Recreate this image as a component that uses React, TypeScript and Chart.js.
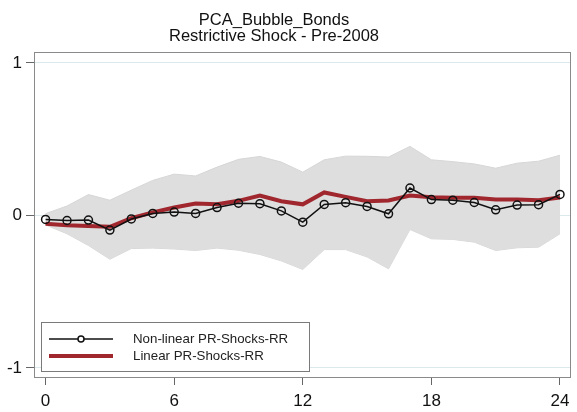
import React, { useEffect, useRef } from "react";
import { Chart, registerables } from "chart.js";

Chart.register(...registerables);

const titleLines = ["PCA_Bubble_Bonds", "Restrictive Shock - Pre-2008"];
const steps = [0, 1, 2, 3, 4, 5, 6, 7, 8, 9, 10, 11, 12, 13, 14, 15, 16, 17, 18, 19, 20, 21, 22, 23, 24];
const nonLinear = [-0.026, -0.033, -0.03, -0.096, -0.023, 0.013, 0.022, 0.013, 0.052, 0.08, 0.077, 0.03, -0.044, 0.072, 0.084, 0.059, 0.011, 0.18, 0.104, 0.1, 0.085, 0.037, 0.068, 0.071, 0.138];
const linear = [-0.055, -0.064, -0.069, -0.074, -0.018, 0.02, 0.052, 0.078, 0.074, 0.096, 0.13, 0.093, 0.073, 0.151, 0.122, 0.094, 0.098, 0.131, 0.12, 0.116, 0.116, 0.105, 0.105, 0.1, 0.118];
const bandUpper = [0.012, 0.062, 0.137, 0.1, 0.166, 0.23, 0.271, 0.259, 0.317, 0.368, 0.387, 0.35, 0.284, 0.365, 0.389, 0.388, 0.383, 0.453, 0.365, 0.353, 0.338, 0.31, 0.343, 0.356, 0.395];
const bandLower = [-0.062, -0.12, -0.197, -0.287, -0.217, -0.214, -0.22, -0.23, -0.214, -0.228, -0.256, -0.298, -0.354, -0.224, -0.224, -0.272, -0.35, -0.092, -0.153, -0.157, -0.175, -0.23, -0.212, -0.208, -0.12];
const xTicks = [0, 6, 12, 18, 24];
const yTicks = [-1, 0, 1];
const legendLabels = ["Non-linear PR-Shocks-RR", "Linear PR-Shocks-RR"];

const FONT = '"Liberation Sans", Arial, sans-serif';
const RED = "#a0272e";
const BLACK = "#111111";

export default function App() {
  const ref = useRef<HTMLCanvasElement>(null);

  useEffect(() => {
    const pts = (arr: number[]) => steps.map((x, i) => ({ x, y: arr[i] }));

    const decor = {
      id: "decor",
      afterDraw(chart: any) {
        const { ctx, chartArea } = chart;
        ctx.save();
        // frame
        ctx.strokeStyle = "#8a8a8a";
        ctx.lineWidth = 1;
        ctx.strokeRect(
          Math.round(chartArea.left) + 0.5,
          Math.round(chartArea.top) + 0.5,
          Math.round(chartArea.right - chartArea.left) - 1,
          Math.round(chartArea.bottom - chartArea.top) - 1
        );
        // title
        ctx.fillStyle = "#111111";
        ctx.font = `16.5px ${FONT}`;
        ctx.textAlign = "center";
        ctx.textBaseline = "middle";
        ctx.fillText(titleLines[0], 274, 20);
        ctx.fillText(titleLines[1], 274, 36);
        // legend
        const bx = 41.5, by = 322.5, bw = 268, bh = 49;
        ctx.fillStyle = "#ffffff";
        ctx.fillRect(bx, by, bw, bh);
        ctx.strokeStyle = "#7a7a7a";
        ctx.strokeRect(bx, by, bw, bh);
        // entry 1
        ctx.strokeStyle = BLACK;
        ctx.lineWidth = 1.5;
        ctx.beginPath();
        ctx.moveTo(49, 339);
        ctx.lineTo(113, 339);
        ctx.stroke();
        ctx.beginPath();
        ctx.arc(81, 339, 3, 0, Math.PI * 2);
        ctx.fillStyle = "#ffffff";
        ctx.fill();
        ctx.stroke();
        // entry 2
        ctx.strokeStyle = RED;
        ctx.lineWidth = 4;
        ctx.beginPath();
        ctx.moveTo(49, 356);
        ctx.lineTo(113, 356);
        ctx.stroke();
        ctx.fillStyle = "#222222";
        ctx.font = `13.3px ${FONT}`;
        ctx.textAlign = "left";
        ctx.textBaseline = "middle";
        ctx.fillText(legendLabels[0], 133, 339);
        ctx.fillText(legendLabels[1], 133, 356);
        ctx.restore();
      },
    };

    const chart = new Chart(ref.current!, {
      type: "line",
      data: {
        datasets: [
          {
            label: legendLabels[0],
            data: pts(nonLinear),
            borderColor: BLACK,
            borderWidth: 1.5,
            pointRadius: 4,
            pointBorderWidth: 1.5,
            pointBorderColor: BLACK,
            pointBackgroundColor: "rgba(0,0,0,0)",
            fill: false,
            tension: 0,
            order: 0,
          },
          {
            label: legendLabels[1],
            data: pts(linear),
            borderColor: RED,
            borderWidth: 4,
            pointRadius: 0,
            fill: false,
            tension: 0,
            order: 1,
          },
          {
            label: "upper",
            data: pts(bandUpper),
            borderColor: "#d6d6d6",
            borderWidth: 1,
            backgroundColor: "#dedede",
            pointRadius: 0,
            fill: "+1",
            tension: 0,
            order: 2,
          },
          {
            label: "lower",
            data: pts(bandLower),
            borderColor: "#d6d6d6",
            borderWidth: 1,
            pointRadius: 0,
            fill: false,
            tension: 0,
            order: 3,
          },
        ],
      },
      options: {
        responsive: false,
        animation: false,
        layout: { padding: { top: 52, right: 6.5, left: 0, bottom: 0 } },
        plugins: { legend: { display: false }, title: { display: false }, tooltip: { enabled: false } },
        scales: {
          x: {
            type: "linear",
            min: -0.54,
            max: 24.49,
            afterBuildTicks: (axis: any) => {
              axis.ticks = xTicks.map((v) => ({ value: v }));
            },
            afterFit: (s: any) => {
              s.height = 34;
            },
            border: { display: false },
            grid: { drawOnChartArea: false, tickLength: 7, tickColor: "#666666", tickWidth: 1 },
            ticks: { font: { family: FONT, size: 17 }, color: "#111111", padding: 6, maxRotation: 0 },
          },
          y: {
            type: "linear",
            min: -1.066,
            max: 1.072,
            afterBuildTicks: (axis: any) => {
              axis.ticks = yTicks.map((v) => ({ value: v }));
            },
            afterFit: (s: any) => {
              s.width = 34;
            },
            border: { display: false },
            grid: { drawOnChartArea: true, color: "#dce9ec", tickLength: 8, tickColor: "#666666", tickWidth: 1 },
            ticks: { font: { family: FONT, size: 17 }, color: "#111111", padding: 4 },
          },
        },
      },
      plugins: [decor],
    } as any);
    return () => chart.destroy();
  }, []);

  return (
    <div style={{ position: "fixed", left: 0, top: 0, width: 577, height: 412, background: "#ffffff" }}>
      <canvas ref={ref} width={577} height={412} style={{ display: "block" }} />
    </div>
  );
}
